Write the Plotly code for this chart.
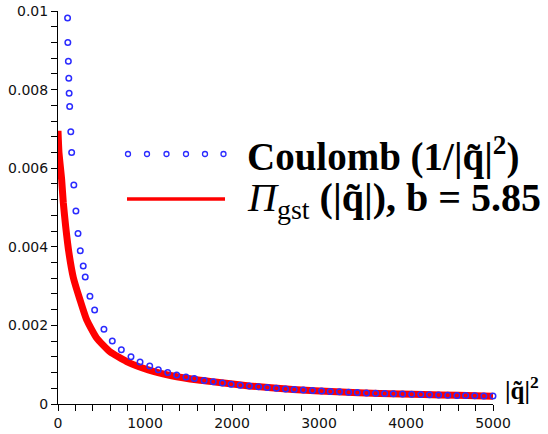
import plotly.graph_objects as go

# Coulomb (1/|q|^2) points
coulomb_x = [110, 113, 119, 124, 128, 134, 147, 157, 182, 206, 230, 256, 290, 313,
             367, 421, 528, 624, 728, 839, 943, 1054, 1153, 1261, 1364, 1471, 1567,
             1680, 1785, 1890, 1990, 2095, 2200, 2305, 2405, 2510, 2615, 2715, 2820,
             2925, 3030, 3130, 3235, 3340, 3440, 3545, 3650, 3755, 3855, 3960, 4065,
             4170, 4270, 4375, 4480, 4585, 4685, 4790, 4895, 5000]
coulomb_y = [0.00982, 0.00920, 0.00872, 0.00829, 0.00791, 0.00757, 0.00693, 0.00640,
             0.00557, 0.00491, 0.00434, 0.00390, 0.00351, 0.00323, 0.00274, 0.00239,
             0.00190, 0.00160, 0.00138, 0.00120, 0.00107, 0.00097, 0.00087, 0.00080,
             0.00074, 0.00069, 0.00065,
             0.000600, 0.000565, 0.000532, 0.000505, 0.000479, 0.000456, 0.000436,
             0.000417, 0.000400, 0.000384, 0.000369, 0.000356, 0.000343, 0.000331,
             0.000320, 0.000310, 0.000300, 0.000291, 0.000283, 0.000275, 0.000267,
             0.000260, 0.000253, 0.000247, 0.000241, 0.000235, 0.000230, 0.000224,
             0.000219, 0.000214, 0.000210, 0.000205, 0.000201]

# Pi_gst curve
pi_x = [0, 11, 42, 61, 88, 126, 176, 253, 330, 444, 598, 789, 1038, 1307, 1613,
        1805, 2200, 2700, 3200, 3700, 4200, 4600, 5000]
pi_y = [0.00695, 0.00640, 0.00571, 0.00512, 0.00452, 0.00384, 0.00322, 0.00265,
        0.00214, 0.00168, 0.00133, 0.00108, 0.00087, 0.00072, 0.00061, 0.00056,
        0.00046, 0.00037, 0.00031, 0.00027, 0.00024, 0.00022, 0.00020]

y_ticks = [0, 0.002, 0.004, 0.006, 0.008, 0.01]
y_tick_text = ["0", "0.002", "0.004", "0.006", "0.008", "0.01"]
x_ticks = [0, 1000, 2000, 3000, 4000, 5000]
x_tick_text = ["0", "1000", "2000", "3000", "4000", "5000"]

legend_coulomb = "<b>Coulomb (1/|q̃|<sup>2</sup>)</b>"
legend_pi = "<i>Π</i><sub>gst</sub> <b>(|q̃|), b = 5.85</b>"
x_title = "<b>|q̃|</b><sup><b>2</b></sup>"

BLUE = "#2b2bff"
RED = "#ff0000"

fig = go.Figure()
fig.add_trace(go.Scatter(x=pi_x, y=pi_y, mode="lines", line=dict(color=RED, width=7),
                         line_shape="spline", line_smoothing=0.5, showlegend=False,
                         cliponaxis=False))
fig.add_trace(go.Scatter(x=coulomb_x, y=coulomb_y, mode="markers",
                         marker=dict(symbol="circle-open", size=5.5, color=BLUE,
                                     line=dict(width=1.5, color=BLUE)),
                         showlegend=False, cliponaxis=False))

# the page's body margin is removed (post_script), so the figure fills the window
W, H = 548, 434
L, R, T, B = 58, 55, 11, 30
pw, ph = W - L - R, H - T - B

def px_to_paper(px, py):
    return (px - L) / pw, (H - B - py) / ph

# manual legend (decorations)
shapes = []
for dx in [128, 147, 166.5, 186, 205, 223.5]:
    xp, yp = px_to_paper(dx, 154)
    shapes.append(dict(type="circle", xref="paper", yref="paper", xsizemode="pixel",
                       ysizemode="pixel", xanchor=xp, yanchor=yp, x0=-2.5, x1=2.5,
                       y0=-2.5, y1=2.5, line=dict(color=BLUE, width=1.3)))
x0p, ylp = px_to_paper(127, 199)
x1p, _ = px_to_paper(225, 199)
shapes.append(dict(type="line", xref="paper", yref="paper", x0=x0p, x1=x1p, y0=ylp, y1=ylp,
                   line=dict(color=RED, width=3.5)))

annotations = []
ax, ay = px_to_paper(245, 154)
annotations.append(dict(text=legend_coulomb, xref="paper", yref="paper", x=ax, y=ay,
                        xanchor="left", yanchor="middle", showarrow=False,
                        font=dict(family="Liberation Serif", size=39, color="black")))
ax, ay = px_to_paper(245, 200)
annotations.append(dict(text=legend_pi, xref="paper", yref="paper", x=ax, y=ay,
                        xanchor="left", yanchor="middle", showarrow=False,
                        font=dict(family="Liberation Serif", size=40, color="black")))
ax, ay = px_to_paper(503, 388)
annotations.append(dict(text=x_title, xref="paper", yref="paper", x=ax, y=ay,
                        xanchor="left", yanchor="middle", showarrow=False,
                        font=dict(family="Liberation Serif", size=25, color="black")))

tickfont = dict(family="DejaVu Sans", size=14, color="#111111")
fig.update_layout(
    width=W, height=H, margin=dict(l=L, r=R, t=T, b=B, autoexpand=False),
    paper_bgcolor="white", plot_bgcolor="white",
    shapes=shapes, annotations=annotations, showlegend=False,
    xaxis=dict(range=[0, 5000], automargin=False, showgrid=False, zeroline=False,
               showline=True, linecolor="black", linewidth=1, ticks="outside", ticklen=6,
               tickcolor="black", tickvals=x_ticks, ticktext=x_tick_text, tickfont=tickfont,
               ticklabeloverflow="allow",
               minor=dict(dtick=200, ticks="outside", ticklen=6, tickcolor="black",
                          showgrid=False)),
    yaxis=dict(range=[0, 0.01], automargin=False, showgrid=False, zeroline=False,
               showline=True, linecolor="black", linewidth=1, ticks="outside", ticklen=6,
               tickcolor="black", tickvals=y_ticks, ticktext=y_tick_text, tickfont=tickfont,
               ticklabeloverflow="allow",
               minor=dict(dtick=0.0004, ticks="outside", ticklen=6, tickcolor="black",
                          showgrid=False)),
)

fig.write_html("out.html", config={"displayModeBar": False},
               post_script="document.body.style.margin='0';"
                           "document.body.style.overflow='hidden';")
